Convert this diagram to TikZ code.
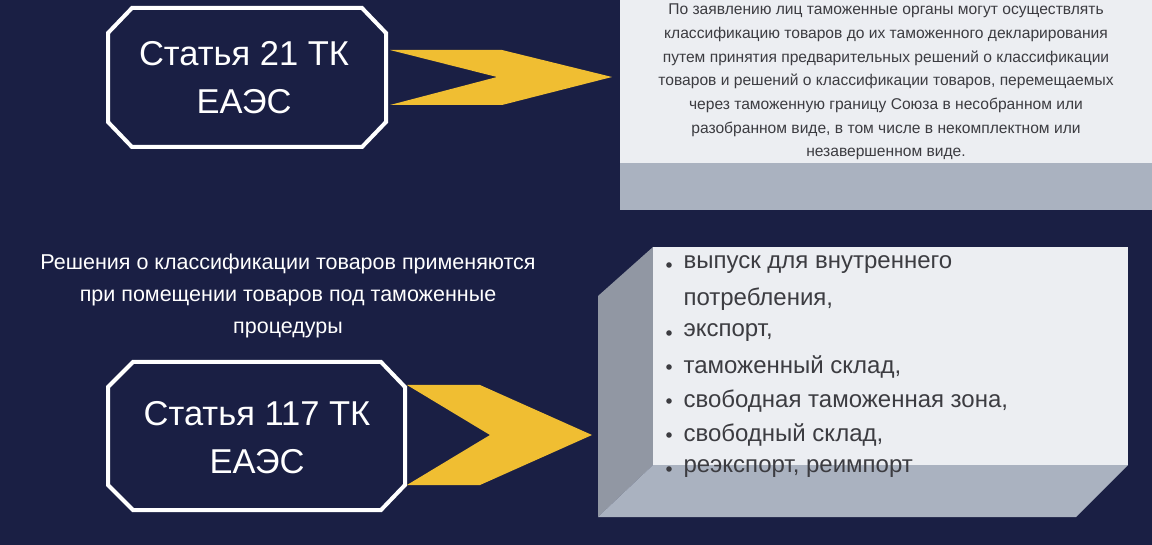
\documentclass[tikz,border=0pt]{standalone}
\usepackage{fontspec}
\setmainfont{Liberation Sans}
\begin{document}
\definecolor{bg}{RGB}{26,31,68}
\definecolor{gold}{RGB}{240,190,50}
\definecolor{face}{RGB}{236,238,242}
\definecolor{side}{RGB}{170,178,192}
\definecolor{txtg}{RGB}{60,60,65}
\begin{tikzpicture}[x=1pt,y=-1pt,
  oct/.style={draw=white,line width=4pt,fill=bg,line join=miter},
  chev/.style={fill=gold},
  octtext/.style={text=white,font=\fontsize{34.5}{48}\selectfont,align=center},
  bul/.style={anchor=west,text=txtg,font=\fontsize{24}{24}\selectfont}]
\fill[bg] (0,0) rectangle (1152,545);
\useasboundingbox (0,0) rectangle (1152,545);
% top-right box
\fill[side] (620,0) rectangle (1152,210);
\fill[face] (620,0) rectangle (1152,163);
\node[text=txtg,font=\fontsize{15.6}{23.7}\selectfont,align=center] (p) at (886,82) {По заявлению лиц таможенные органы могут осуществлять\\ классификацию товаров до их таможенного декларирования\\ путем принятия предварительных решений о классификации\\ товаров и решений о классификации товаров, перемещаемых\\ через таможенную границу Союза в несобранном или\\ разобранном виде, в том числе в некомплектном или\\ незавершенном виде.};
% top octagon
\draw[oct] (132,8) -- (362,8) -- (386,33) -- (386,122) -- (362,147) -- (132,147) -- (108,122) -- (108,33) -- cycle;
\node[octtext] (a1) at (244,78) {Статья 21 ТК\\ЕАЭС};
\fill[chev] (390,50) -- (502,50) -- (612,77) -- (502,105) -- (390,105) -- (497,77) -- cycle;
% bottom text
\node[text=white,font=\fontsize{21.5}{32}\selectfont,align=center] (t) at (288,296) {Решения о классификации товаров применяются\\ при помещении товаров под таможенные\\ процедуры};
% bottom octagon
\draw[oct] (133,362) -- (381,362) -- (405,387) -- (405,485) -- (381,510) -- (133,510) -- (108,485) -- (108,387) -- cycle;
\node[octtext] (a2) at (257,438) {Статья 117 ТК\\ЕАЭС};
\fill[chev] (407,385) -- (480,385) -- (592,435) -- (480,485) -- (407,485) -- (490,435) -- cycle;
% bottom-right box
\fill[side!85!black] (598,296) -- (653,247) -- (653,465) -- (598,517) -- cycle;
\fill[side] (653,465) -- (1128,465) -- (1076,517) -- (598,517) -- cycle;
\fill[face] (653,247) rectangle (1128,465);
\foreach \i/\s in {0/{выпуск для внутреннего},2/{экспорт,},3/{таможенный склад,},4/{свободная таможенная зона,},5/{свободный склад,},6/{реэкспорт, реимпорт}}{
  \fill[txtg] (669,265+\i*34) circle (2.8pt);
  \node[bul] at (680,265+\i*34) {\s};
}
\node[bul] (b) at (680,299) {потребления,};
\end{tikzpicture}
\end{document}
